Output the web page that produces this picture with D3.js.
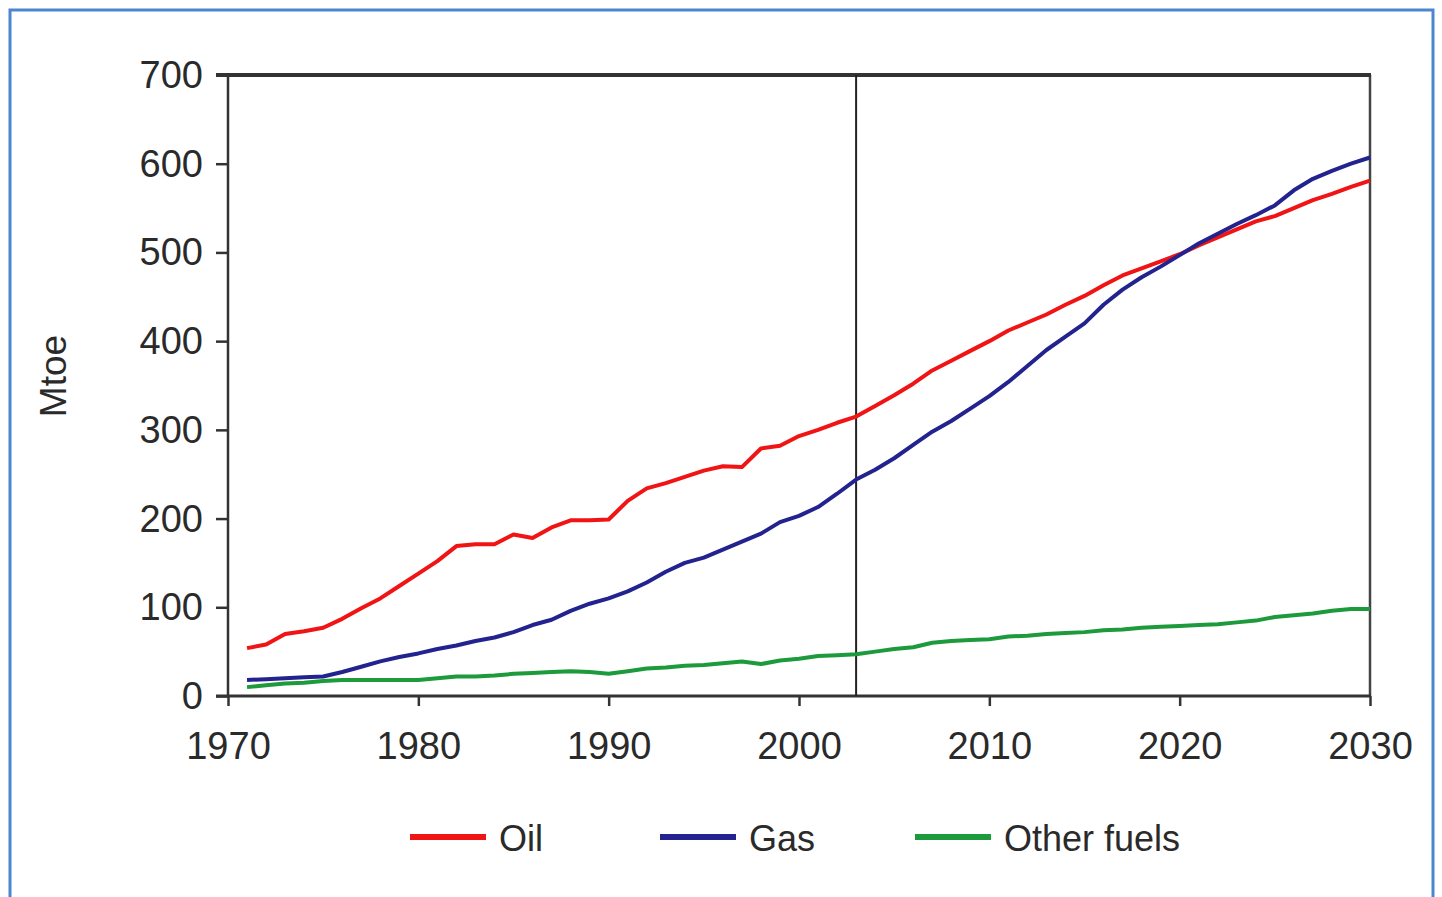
<!DOCTYPE html>
<html>
<head>
<meta charset="utf-8">
<script src="https://cdn.jsdelivr.net/npm/d3@7"></script>
<style>
  html, body { margin: 0; padding: 0; background: #fff; }
  svg { display: block; }
  text { font-family: "Liberation Sans", Arial, sans-serif; fill: #2a2a2a; }
</style>
</head>
<body>
<div id="chart"></div>
<script>
// Years 1971..2030
const years = d3.range(1971, 2031);

const oil = [
  54, 58, 70, 73, 77, 87, 99, 110, 124, 138,
  152, 169, 171, 171, 182, 178, 190, 198, 198, 199,
  220, 234, 240, 247, 254, 259, 258, 279, 282, 293,
  300, 308, 315, 327, 339, 352, 367, 378, 389, 400,
  412, 421, 430, 441, 451, 463, 474, 482, 490, 498,
  508, 517, 526, 535, 541, 550, 559, 566, 574, 581
];

const gas = [
  18, 19, 20, 21, 22, 27, 33, 39, 44, 48,
  53, 57, 62, 66, 72, 80, 86, 96, 104, 110,
  118, 128, 140, 150, 156, 165, 174, 183, 196, 203,
  213, 228, 244, 255, 268, 283, 298, 310, 324, 338,
  354, 372, 390, 405, 420, 441, 458, 472, 484, 497,
  510, 521, 532, 542, 553, 570, 583, 592, 600, 607
];

const otherFuels = [
  10, 12, 14, 15, 17, 18, 18, 18, 18, 18,
  20, 22, 22, 23, 25, 26, 27, 28, 27, 25,
  28, 31, 32, 34, 35, 37, 39, 36, 40, 42,
  45, 46, 47, 50, 53, 55, 60, 62, 63, 64,
  67, 68, 70, 71, 72, 74, 75, 77, 78, 79,
  80, 81, 83, 85, 89, 91, 93, 96, 98, 98
];

const seriesNames = ["Oil", "Gas", "Other fuels"];
const seriesColors = ["#f01414", "#23238f", "#1c9a3c"];
const xTicks = [1970, 1980, 1990, 2000, 2010, 2020, 2030];
const yTicks = [0, 100, 200, 300, 400, 500, 600, 700];
const markerYear = 2003;

const width = 1442;
const height = 897;
const margin = { top: 75, right: 72, bottom: 201, left: 228 };
const innerW = width - margin.left - margin.right;
const innerH = height - margin.top - margin.bottom;

const svg = d3.select("#chart")
  .append("svg")
  .attr("width", width)
  .attr("height", height);

// outer blue frame (bottom edge runs off the picture)
svg.append("rect")
  .attr("x", 10)
  .attr("y", 10)
  .attr("width", 1423)
  .attr("height", 900)
  .attr("fill", "none")
  .attr("stroke", "#4a87d0")
  .attr("stroke-width", 3);

const g = svg.append("g")
  .attr("transform", `translate(${margin.left},${margin.top})`);

const x = d3.scaleLinear().domain([1970, 2030]).range([0, innerW]);
const y = d3.scaleLinear().domain([0, 700]).range([innerH, 0]);

// axes
const xAxis = g.append("g")
  .attr("transform", `translate(0,${innerH})`)
  .call(d3.axisBottom(x).tickValues(xTicks).tickFormat(d3.format("d")).tickSize(10).tickSizeOuter(0).tickPadding(26));

const yAxis = g.append("g")
  .call(d3.axisLeft(y).tickValues(yTicks).tickSize(12).tickSizeOuter(0).tickPadding(13));

[xAxis, yAxis].forEach((ax) => {
  ax.select(".domain").remove();
  ax.selectAll(".tick line").attr("stroke", "#333").attr("stroke-width", 2.5);
  ax.selectAll(".tick text")
    .attr("font-size", 38)
    .attr("fill", "#2a2a2a")
    .style("font-family", "'Liberation Sans', Arial, sans-serif");
});
yAxis.selectAll(".tick text").attr("dy", "0.33em");

// plot frame
g.append("line").attr("x1", 0).attr("x2", 0).attr("y1", 0).attr("y2", innerH)
  .attr("stroke", "#333").attr("stroke-width", 2.5);
g.append("line").attr("x1", innerW).attr("x2", innerW).attr("y1", 0).attr("y2", innerH)
  .attr("stroke", "#444").attr("stroke-width", 2.5);
g.append("line").attr("x1", -12).attr("x2", innerW + 1).attr("y1", 0).attr("y2", 0)
  .attr("stroke", "#333").attr("stroke-width", 4);
g.append("line").attr("x1", -12).attr("x2", innerW + 1).attr("y1", innerH).attr("y2", innerH)
  .attr("stroke", "#333").attr("stroke-width", 3);

// marker for the projection start
g.append("line")
  .attr("x1", x(markerYear)).attr("x2", x(markerYear))
  .attr("y1", 0).attr("y2", innerH)
  .attr("stroke", "#222").attr("stroke-width", 2);

// series lines
const series = [oil, gas, otherFuels];
const line = d3.line()
  .x((d, i) => x(years[i]))
  .y((d) => y(d));

// draw green first so red/blue sit on top
[2, 0, 1].forEach((k) => {
  g.append("path")
    .datum(series[k])
    .attr("fill", "none")
    .attr("stroke", seriesColors[k])
    .attr("stroke-width", 4)
    .attr("stroke-linejoin", "round")
    .attr("d", line);
});

// y axis title
svg.append("text")
  .attr("transform", "translate(66,376) rotate(-90)")
  .attr("text-anchor", "middle")
  .attr("font-size", 37)
  .text("Mtoe");

// legend
const legendX = [410, 660, 915];
const legend = svg.append("g").attr("transform", "translate(0,837)");
seriesNames.forEach((name, i) => {
  legend.append("line")
    .attr("x1", legendX[i]).attr("x2", legendX[i] + 76)
    .attr("y1", 0).attr("y2", 0)
    .attr("stroke", seriesColors[i])
    .attr("stroke-width", 6);
  legend.append("text")
    .attr("x", legendX[i] + 89)
    .attr("y", 14)
    .attr("font-size", 36)
    .text(name);
});
</script>
</body>
</html>
